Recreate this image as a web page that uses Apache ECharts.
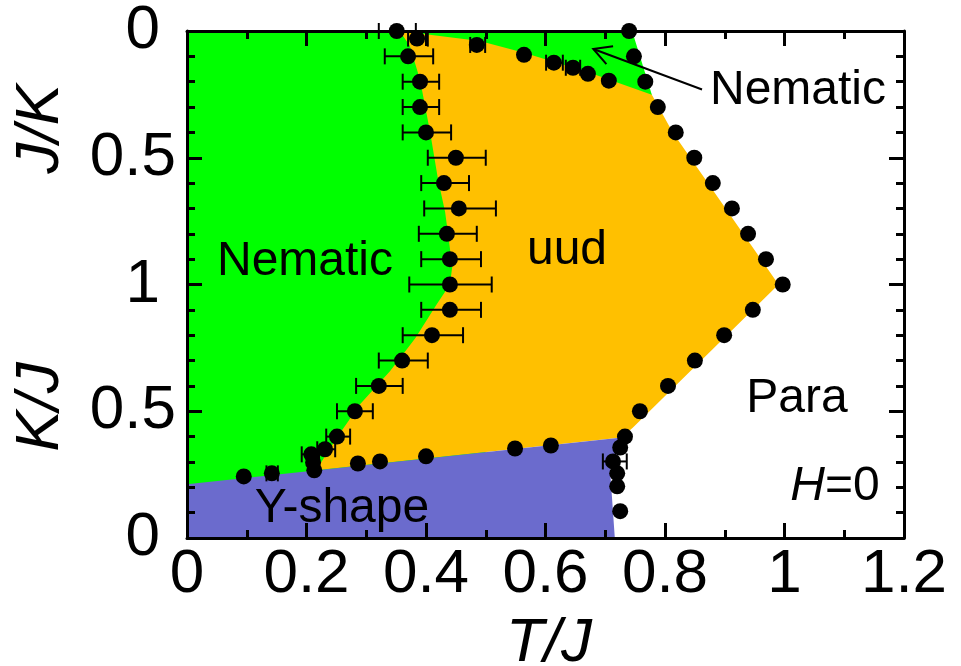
<!DOCTYPE html>
<html>
<head>
<meta charset="utf-8">
<script src="https://cdn.jsdelivr.net/npm/echarts@6/dist/echarts.min.js"></script>
<style>
  html, body { margin: 0; padding: 0; background: #fff; }
  #chart { width: 961px; height: 666px; }
</style>
</head>
<body>
<div id="chart"></div>
<script>
// Vertical coordinate runs 0..2: the lower half is K/J, the upper half is J/K = 2 - value.
const xTickLabels = ['0', '0.2', '0.4', '0.6', '0.8', '1', '1.2'];
const yTickValues = [0, 0.5, 1, 1.5, 2];
const yTickLabels = ['0', '0.5', '1', '0.5', '0'];

// Nematic / uud transition (with error bars)
const nemUudT  = [0.351, 0.385, 0.370, 0.390, 0.390, 0.400, 0.450, 0.430, 0.455, 0.435, 0.440, 0.440, 0.440, 0.410, 0.360, 0.321, 0.281, 0.251, 0.231, 0.208];
const nemUudS  = [2.00, 1.97, 1.90, 1.80, 1.70, 1.60, 1.50, 1.40, 1.30, 1.20, 1.10, 1.00, 0.90, 0.80, 0.70, 0.60, 0.50, 0.40, 0.35, 0.33];
const nemUudLo = [0.321, 0.370, 0.331, 0.361, 0.361, 0.361, 0.403, 0.392, 0.397, 0.388, 0.392, 0.372, 0.392, 0.361, 0.321, 0.283, 0.251, 0.233, 0.218, 0.192];
const nemUudHi = [0.383, 0.403, 0.412, 0.422, 0.422, 0.442, 0.500, 0.472, 0.517, 0.485, 0.492, 0.510, 0.492, 0.462, 0.403, 0.361, 0.311, 0.273, 0.248, 0.221];

// uud / Nematic boundary near J/K -> 0
const uudNemT  = [0.485, 0.564, 0.614, 0.646, 0.671, 0.706];
const uudNemS  = [1.945, 1.906, 1.875, 1.855, 1.831, 1.804];
const uudNemLo = [0.474, null, 0.601, 0.634, null, null];
const uudNemHi = [0.499, null, 0.629, 0.658, null, null];

// ordered phases / Para boundary
const paraT = [0.740, 0.748, 0.767, 0.788, 0.818, 0.849, 0.880, 0.912, 0.939, 0.969, 0.997, 0.947, 0.899, 0.850, 0.805, 0.758, 0.733];
const paraS = [2.00, 1.90, 1.80, 1.70, 1.60, 1.50, 1.40, 1.30, 1.20, 1.10, 1.00, 0.90, 0.80, 0.70, 0.60, 0.50, 0.40];

// Y-shape upper boundary
const yShapeT  = [0.095, 0.142, 0.211, 0.213, 0.286, 0.323, 0.400, 0.549, 0.609];
const yShapeS  = [0.243, 0.255, 0.298, 0.267, 0.294, 0.302, 0.322, 0.353, 0.365];
const yShapeLo = [null, 0.133, null, null, null, null, null, null, null];
const yShapeHi = [null, 0.152, null, null, null, null, null, null, null];

// Y-shape / Para boundary
const yParaT  = [0.725, 0.713, 0.720, 0.720, 0.725];
const yParaS  = [0.357, 0.302, 0.255, 0.204, 0.106];
const yParaLo = [null, 0.696, null, null, null];
const yParaHi = [null, 0.736, null, null, null];

// Phase regions (T, vertical coordinate)
const nematicArea = [[0, 0], [0, 2], [0.745, 2], [0.778, 1.749], [0.70, 1.0], [0.5, 0.35], [0.5, 0]];
const uudArea = [[0.356, 2.0], [0.490, 1.961], [0.564, 1.914], [0.674, 1.835], [0.778, 1.749], [0.813, 1.6],
  [0.99, 1.0], [0.746, 0.435], [0.727, 0.396], [0.212, 0.266], [0.219, 0.278], [0.251, 0.396], [0.290, 0.529],
  [0.340, 0.659], [0.382, 0.788], [0.418, 0.922], [0.440, 1.0], [0.444, 1.071], [0.432, 1.286], [0.420, 1.416],
  [0.407, 1.6], [0.390, 1.808], [0.373, 1.941]];
const yShapeArea = [[0, 0], [0, 0.212], [0.728, 0.396], [0.708, 0.27], [0.716, 0]];

const regionColors = ['#00ff00', '#ffc000', '#6b6bcd'];
const regions = [nematicArea, uudArea, yShapeArea];

const FONT = '"Liberation Sans", Arial, sans-serif';

function zipPoints(ts, ss) { return ts.map((t, i) => [t, ss[i]]); }
function zipBars(los, his, ss) {
  const out = [];
  los.forEach((lo, i) => { if (lo != null) out.push([lo, his[i], ss[i]]); });
  return out;
}

const points = [].concat(
  zipPoints(nemUudT, nemUudS), zipPoints(uudNemT, uudNemS), zipPoints(paraT, paraS),
  zipPoints(yShapeT, yShapeS), zipPoints(yParaT, yParaS));
const bars = [].concat(
  zipBars(nemUudLo, nemUudHi, nemUudS), zipBars(uudNemLo, uudNemHi, uudNemS),
  zipBars(yShapeLo, yShapeHi, yShapeS), zipBars(yParaLo, yParaHi, yParaS));

const tickStyle = { color: '#000', width: 3 };
function xAxisCfg(pos, showLabel) {
  return {
    type: 'value', position: pos, min: 0, max: 1.2, interval: 0.2, z: 3,
    axisLine: { show: true, onZero: false, lineStyle: { color: '#000', width: 3 } },
    axisTick: { show: true, inside: true, length: 15, lineStyle: tickStyle },
    minorTick: { show: true, splitNumber: 2, length: 8, lineStyle: tickStyle },
    splitLine: { show: false }, minorSplitLine: { show: false },
    axisLabel: {
      show: showLabel, margin: 6, color: '#000', fontSize: 62, fontFamily: FONT,
      formatter: v => xTickLabels[Math.round(v / 0.2)]
    }
  };
}
function yAxisCfg(pos, showLabel) {
  return {
    type: 'value', position: pos, min: 0, max: 2, interval: 0.5, z: 3,
    axisLine: { show: true, onZero: false, lineStyle: { color: '#000', width: 3 } },
    axisTick: { show: true, inside: true, length: 15, lineStyle: tickStyle },
    minorTick: { show: true, splitNumber: 5, length: 8, lineStyle: tickStyle },
    splitLine: { show: false }, minorSplitLine: { show: false },
    axisLabel: {
      show: showLabel, margin: 11, color: '#000', fontSize: 62, fontFamily: FONT,
      formatter: v => {
        const lab = yTickLabels[yTickValues.indexOf(Math.round(v * 2) / 2)];
        return lab === '0.5' ? lab : '{n|' + lab + '}';
      },
      rich: { n: { fontSize: 62, fontFamily: FONT, color: '#000', padding: [0, 16, 0, 0] } }
    }
  };
}

const chart = echarts.init(document.getElementById('chart'));
chart.setOption({
  animation: false,
  backgroundColor: '#fff',
  grid: { left: 187, right: 57, top: 28, bottom: 128 },
  xAxis: [xAxisCfg('bottom', true), xAxisCfg('top', false)],
  yAxis: [yAxisCfg('left', true), yAxisCfg('right', false)],
  series: [
    {
      type: 'custom', xAxisIndex: 0, yAxisIndex: 0, z: 1, silent: true,
      data: regions.map(() => [0, 0]),
      renderItem: (params, api) => ({
        type: 'polygon',
        shape: { points: regions[params.dataIndex].map(p => api.coord(p)) },
        style: { fill: regionColors[params.dataIndex] }
      })
    },
    {
      type: 'custom', xAxisIndex: 0, yAxisIndex: 0, z: 4, silent: true,
      encode: { x: [0, 1], y: 2 },
      data: bars,
      renderItem: (params, api) => {
        const a = api.coord([api.value(0), api.value(2)]);
        const b = api.coord([api.value(1), api.value(2)]);
        const st = { stroke: '#000', lineWidth: 2 };
        return {
          type: 'group', children: [
            { type: 'line', shape: { x1: a[0], y1: a[1], x2: b[0], y2: b[1] }, style: st },
            { type: 'line', shape: { x1: a[0], y1: a[1] - 8, x2: a[0], y2: a[1] + 8 }, style: st },
            { type: 'line', shape: { x1: b[0], y1: b[1] - 8, x2: b[0], y2: b[1] + 8 }, style: st }
          ]
        };
      }
    },
    {
      type: 'scatter', xAxisIndex: 0, yAxisIndex: 0, z: 5, clip: false,
      symbol: 'circle', symbolSize: 16,
      itemStyle: { color: '#000', opacity: 1 },
      data: points
    }
  ]
});

// Arrow pointing at the thin Nematic wedge, placed in data coordinates
const arrowTip = [0.680, 1.929];
const arrowTail = [0.862, 1.769];
const tip = chart.convertToPixel({ xAxisIndex: 0, yAxisIndex: 0 }, arrowTip);
const tail = chart.convertToPixel({ xAxisIndex: 0, yAxisIndex: 0 }, arrowTail);
const ang = Math.atan2(tail[1] - tip[1], tail[0] - tip[0]);
const headLen = 20, headSpread = 0.5;
const h1 = [tip[0] + headLen * Math.cos(ang + headSpread), tip[1] + headLen * Math.sin(ang + headSpread)];
const h2 = [tip[0] + headLen * Math.cos(ang - headSpread), tip[1] + headLen * Math.sin(ang - headSpread)];

const labelStyle = (txt, x, y, extra) => ({
  type: 'text', x: x, y: y, z: 10,
  style: Object.assign({ text: txt, fill: '#000', fontSize: 48, fontFamily: FONT, align: 'center', verticalAlign: 'middle' }, extra || {})
});

chart.setOption({
  graphic: [
    labelStyle('Nematic', 305, 262),
    labelStyle('Nematic', 798, 91),
    labelStyle('uud', 567, 251),
    labelStyle('Para', 797, 399),
    labelStyle('Y-shape', 342, 509),
    labelStyle('{i|H}=0', 835, 487, { rich: { i: { fontStyle: 'italic', fontSize: 48, fontFamily: FONT } } }),
    labelStyle('T/J', 549, 644, { fontStyle: 'italic', fontSize: 62 }),
    labelStyle('K/J', 41, 407, { fontStyle: 'italic', fontSize: 62 }),
    labelStyle('J/K', 41, 129, { fontStyle: 'italic', fontSize: 62 }),
    {
      type: 'polyline', z: 10, shape: { points: [tail, tip] }, style: { stroke: '#000', lineWidth: 2, fill: null }
    },
    {
      type: 'polyline', z: 10, shape: { points: [h1, tip, h2] }, style: { stroke: '#000', lineWidth: 2, fill: null }
    }
  ]
});
// rotate the two vertical axis titles
const opt = chart.getOption();
const g = opt.graphic[0].elements;
chart.setOption({
  graphic: g.map((el, i) => (i === 7 || i === 8) ? { id: el.id, rotation: Math.PI / 2 } : { id: el.id })
});
</script>
</body>
</html>
